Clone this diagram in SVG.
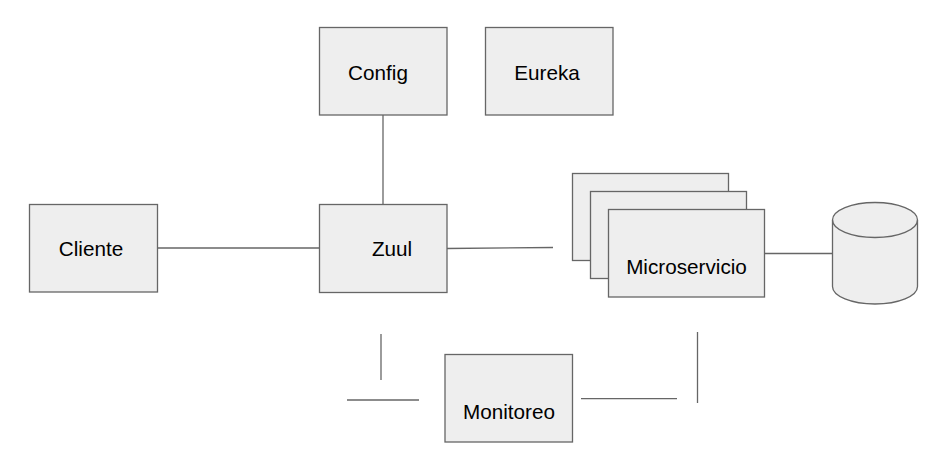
<svg xmlns="http://www.w3.org/2000/svg" width="932" height="461" viewBox="0 0 932 461">
<style>
.box{fill:#eeeeee;stroke:#666666;stroke-width:1.3}
.ln{fill:none;stroke:#666666;stroke-width:1.3}
.t{font-family:"Liberation Sans",Arial,sans-serif;font-size:20.7px;fill:#000000;text-anchor:middle}
</style>
<rect width="932" height="461" fill="#ffffff"/>
<g id="connectors">
<line class="ln" x1="383" y1="115" x2="383" y2="204"/>
<line class="ln" x1="157.5" y1="248" x2="319" y2="248"/>
<line class="ln" x1="447" y1="248.5" x2="553" y2="247.5"/>
<line class="ln" x1="764" y1="253.5" x2="832" y2="253.5"/>
<line class="ln" x1="381" y1="334" x2="381" y2="380"/>
<line class="ln" x1="347" y1="400" x2="419" y2="400"/>
<line class="ln" x1="581" y1="398.7" x2="677" y2="398.7"/>
<line class="ln" x1="697.5" y1="332" x2="697.5" y2="403"/>
</g>
<g id="config">
<rect class="box" x="319.5" y="27.5" width="127.5" height="87.5"/>
<text class="t" x="378" y="79.5">Config</text>
</g>
<g id="eureka">
<rect class="box" x="485.5" y="27.5" width="127.5" height="87.5"/>
<text class="t" x="547" y="79.5">Eureka</text>
</g>
<g id="cliente">
<rect class="box" x="29.5" y="204.5" width="128" height="87.5"/>
<text class="t" x="91" y="256">Cliente</text>
</g>
<g id="zuul">
<rect class="box" x="319.5" y="204.5" width="127.5" height="88"/>
<text class="t" x="392" y="256">Zuul</text>
</g>
<g id="microservicio">
<rect class="box" x="572.5" y="173.5" width="156" height="87"/>
<rect class="box" x="590.5" y="191.5" width="156" height="87"/>
<rect class="box" x="608.5" y="209.5" width="156" height="87.5"/>
<text class="t" x="686.5" y="273.5">Microservicio</text>
</g>
<g id="db">
<path class="box" d="M832.5 220 A42.5 17.5 0 0 1 917.5 220 L917.5 286.5 A42.5 17.5 0 0 1 832.5 286.5 Z"/>
<path class="ln" d="M832.5 220 A42.5 17.5 0 0 0 917.5 220"/>
</g>
<g id="monitoreo">
<rect class="box" x="445" y="354.5" width="127.5" height="87.5"/>
<text class="t" x="509" y="419">Monitoreo</text>
</g>
</svg>
